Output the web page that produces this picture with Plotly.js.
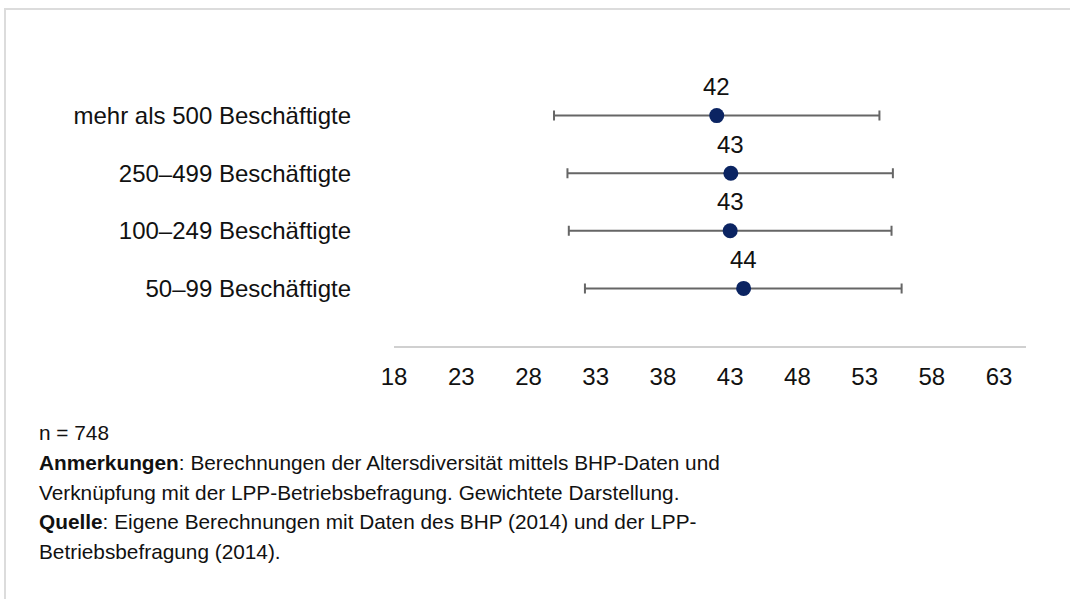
<!DOCTYPE html>
<html>
<head>
<meta charset="utf-8">
<script src="https://cdn.plot.ly/plotly-3.0.1.min.js"></script>
<style>
  html, body { margin: 0; padding: 0; background: #fff; }
  #wrap { position: relative; width: 1070px; height: 599px; overflow: hidden; }
  #chart { position: absolute; left: 0; top: 0; width: 1070px; height: 599px; }
  #frame { position: absolute; left: 4px; top: 8px; right: -4px; bottom: -4px;
           border-top: 2px solid #dcdcdc; border-left: 2px solid #dcdcdc; pointer-events: none; }
</style>
</head>
<body>
<div id="wrap">
  <div id="chart"></div>
  <div id="frame"></div>
</div>
<script>
// Data (bottom to top)
const categories = ["50\u201399 Beschäftigte", "100\u2013249 Beschäftigte", "250\u2013499 Beschäftigte", "mehr als 500 Beschäftigte"];
const meanAge = [44.0, 43.0, 43.05, 42.0];
const lowerBound = [32.2, 31.0, 30.9, 29.9];
const upperBound = [55.75, 55.0, 55.1, 54.1];
const valueLabels = ["44", "43", "43", "42"];
const xTicks = [18, 23, 28, 33, 38, 43, 48, 53, 58, 63];

const footLines = [
  "n = 748",
  "<b>Anmerkungen</b>: Berechnungen der Altersdiversität mittels BHP-Daten und",
  "Verknüpfung mit der LPP-Betriebsbefragung. Gewichtete Darstellung.",
  "<b>Quelle</b>: Eigene Berechnungen mit Daten des BHP (2014) und der LPP-",
  "Betriebsbefragung (2014)."
];

const FONT = 'Arial, "Liberation Sans", sans-serif';

// plot area geometry (pixels)
const L = 394, R = 1026, T = 58, B = 346.5, W = 1070, H = 599;
const px2x = p => (p - L) / (R - L);
const py2y = p => (B - p) / (B - T);

const trace = {
  type: 'scatter',
  mode: 'markers',
  x: meanAge,
  y: categories,
  marker: { size: 15, color: '#0b2462' },
  error_x: {
    type: 'data',
    symmetric: false,
    array: upperBound.map((u, i) => u - meanAge[i]),
    arrayminus: lowerBound.map((l, i) => meanAge[i] - l),
    color: '#666666',
    thickness: 2,
    width: 5
  },
  cliponaxis: false,
  hoverinfo: 'x+y'
};

const annotations = meanAge.map((m, i) => ({
  x: m, y: categories[i], xref: 'x', yref: 'y',
  text: valueLabels[i], showarrow: false,
  yshift: 29, font: { family: FONT, size: 24, color: '#111' }
}));

const lineY = [433, 463.5, 493, 522.5, 552];
footLines.forEach((t, i) => {
  annotations.push({
    x: px2x(37), y: py2y(lineY[i]), xref: 'paper', yref: 'paper',
    xanchor: 'left', yanchor: 'middle', align: 'left',
    text: t, showarrow: false,
    font: { family: FONT, size: 20.8, color: '#111' }
  });
});

const layout = {
  width: W, height: H,
  margin: { l: L, r: W - R, t: T, b: H - B, pad: 0 },
  paper_bgcolor: '#ffffff',
  plot_bgcolor: '#ffffff',
  showlegend: false,
  font: { family: FONT, size: 23, color: '#111' },
  xaxis: {
    range: [18, 65],
    tickmode: 'array',
    tickvals: xTicks,
    ticktext: xTicks.map(String),
    showgrid: false, zeroline: false,
    showline: true, linecolor: '#d0d0d0', linewidth: 2,
    ticks: '', ticklabelstandoff: 8,
    tickfont: { family: FONT, size: 24, color: '#111' },
    fixedrange: true
  },
  yaxis: {
    type: 'category',
    categoryorder: 'array',
    categoryarray: categories,
    range: [-1, 4],
    showgrid: false, zeroline: false, showline: false,
    ticks: '', ticklabelstandoff: 42,
    tickfont: { family: FONT, size: 24, color: '#111' },
    fixedrange: true
  },
  annotations: annotations
};

Plotly.newPlot('chart', [trace], layout, { displayModeBar: false, staticPlot: true });
</script>
</body>
</html>
